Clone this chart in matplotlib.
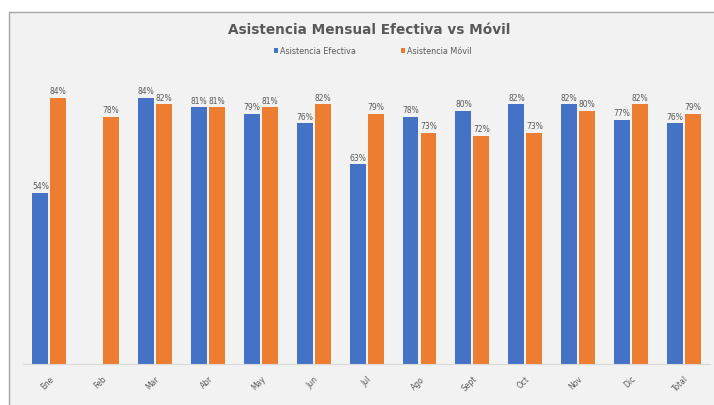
import numpy as np
import matplotlib.pyplot as plt
from matplotlib.patches import Rectangle


# ============================================================
# DATA
# ============================================================

meses = ["Ene", "Feb", "Mar", "Abr", "May", "Jun", "Jul",
         "Ago", "Sept", "Oct", "Nov", "Dic", "Total"]

# None = no value that month
efectiva = [0.54, None, 0.84, 0.81, 0.79, 0.76, 0.63,
            0.78, 0.80, 0.82, 0.82, 0.77, 0.76]
movil = [0.84, 0.78, 0.82, 0.81, 0.81, 0.82, 0.79,
         0.73, 0.72, 0.73, 0.80, 0.82, 0.79]

AZUL = "#4472C4"
NARANJA = "#ED7D31"
FONDO = "#F2F2F2"
TEXTO = "#595959"


# ============================================================
# PLOT
# ============================================================

fig = plt.figure(figsize=(7.14, 4.06), dpi=100)
fig.patch.set_facecolor("white")

# chart panel (gray, with border on top/left)
panel = Rectangle((9 / 714, -0.01), 1.02, 1 - 13 / 406 + 0.01,
                  transform=fig.transFigure, facecolor=FONDO,
                  edgecolor="#A6A6A6", linewidth=1.0, zorder=-5)
fig.patches.append(panel)

ax = fig.add_axes([0.032, 0.101, 0.963, 0.702])
ax.set_facecolor("none")

x = np.arange(len(meses))
w = 0.30
off = 0.17

ef_x = [xi - off for xi, v in zip(x, efectiva) if v is not None]
ef_v = [v for v in efectiva if v is not None]

b1 = ax.bar(ef_x, ef_v, w, color=AZUL, label="Asistencia Efectiva", zorder=2)
b2 = ax.bar(x + off, movil, w, color=NARANJA, label="Asistencia Móvil", zorder=2)

for bars in (b1, b2):
    for r in bars:
        ax.annotate(f"{r.get_height() * 100:.0f}%",
                    (r.get_x() + r.get_width() / 2, r.get_height()),
                    xytext=(0, 2), textcoords="offset points",
                    ha="center", va="bottom", fontsize=5.5, color=TEXTO)

ax.set_xlim(-0.5, len(meses) - 0.5)
ax.set_ylim(0, 0.9)

for s in ["top", "right", "left"]:
    ax.spines[s].set_visible(False)
ax.spines["bottom"].set_color("#D9D9D9")
ax.spines["bottom"].set_linewidth(0.8)

ax.set_yticks([])
ax.set_xticks(x)
ax.set_xticklabels(meses, rotation=45, ha="right", rotation_mode="anchor",
                   fontsize=5.5, color=TEXTO)
ax.tick_params(axis="x", length=0, pad=7)

fig.text(0.517, 0.925, "Asistencia Mensual Efectiva vs Móvil",
         ha="center", va="center", fontsize=9.8, fontweight="bold", color=TEXTO)

fig.legend(handles=[b1, b2], loc="center", bbox_to_anchor=(0.522, 0.872),
           ncol=2, frameon=False, fontsize=5.8, labelcolor=TEXTO,
           handlelength=0.5, handleheight=0.5, handletextpad=0.3,
           columnspacing=5.5)

plt.savefig("out.png", dpi=100, facecolor=fig.get_facecolor())
plt.close()
print("Saved: out.png")
